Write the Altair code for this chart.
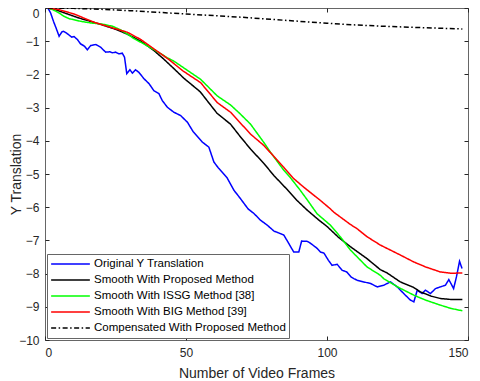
import altair as alt
import pandas as pd

W, H = 423, 332

labels = [
    "Original Y Translation",
    "Smooth With Proposed Method",
    "Smooth With ISSG Method [38]",
    "Smooth With BIG Method [39]",
    "Compensated With Proposed Method",
]
colors = ["#0000ff", "#000000", "#00ff00", "#ff0000", "#000000"]
dashes = [[1, 0], [1, 0], [1, 0], [1, 0], [5, 2.5, 1.5, 2.5]]

orig_x = [1, 2, 3, 4, 5, 6, 6.5, 7.5, 8, 9.5, 10.3, 11.5, 12.6, 14, 15, 16.2, 18, 19.7,
          21.5, 23, 23.9, 25, 26.2, 27.4, 28.2, 29, 30.1, 31, 32.1, 33.3, 35.1, 36.9,
          38.6, 40.4, 41.6, 43.4, 45.7, 48.1, 50.5, 52.5, 55.8, 58.1, 59.9, 61.5, 64.6,
          67, 69.3, 72, 74.1, 76.4, 78.8, 81.2, 83, 84.7, 86.5, 88.2, 90, 91, 93, 94.2,
          96.5, 97.7, 98.9, 100.5, 101.8, 103.6, 105.4, 107, 108.5, 109.5, 110.7, 113,
          115.5, 117.8, 120.1, 122.5, 124.9, 127.2, 129.6, 130.8, 132, 133.7, 134.9,
          136.7, 138.5, 140.2, 142, 143.2, 144.9, 145.9, 147, 147.9]
orig_y = [0, -0.15, -0.4, -0.62, -0.85, -0.72, -0.7, -0.75, -0.78, -0.88, -0.86, -0.95,
          -1.08, -1.15, -1.26, -1.13, -1.1, -1.18, -1.33, -1.32, -1.35, -1.33, -1.38,
          -1.36, -1.48, -1.98, -1.86, -1.96, -1.86, -1.94, -2.13, -2.28, -2.49, -2.58,
          -2.79, -2.99, -3.14, -3.24, -3.44, -3.72, -4.04, -4.19, -4.64, -4.82, -5.12,
          -5.49, -5.74, -6.05, -6.19, -6.39, -6.54, -6.72, -6.78, -6.84, -7.1, -7.35,
          -7.35, -7.02, -7.03, -7.09, -7.24, -7.35, -7.38, -7.6, -7.75, -7.72, -7.9,
          -7.95, -8.1, -8.15, -8.2, -8.25, -8.3, -8.4, -8.35, -8.25, -8.4, -8.6, -8.8,
          -8.85, -8.5, -8.6, -8.5, -8.6, -8.45, -8.4, -8.35, -8.18, -8.45, -8.1, -7.63,
          -7.85]

prop_x = [1, 4, 8, 12, 16, 20, 25, 29, 34, 38.6, 42, 46, 49.3, 55, 61, 65.8, 69.3, 72.9,
          77.6, 81.2, 85.9, 89.4, 93, 97, 100, 104, 108.3, 114.2, 118.9, 121.3, 126,
          130.8, 133.1, 137, 140.2, 144, 148]
prop_y = [0, -0.06, -0.18, -0.3, -0.4, -0.5, -0.64, -0.78, -1.0, -1.28, -1.53, -1.85,
          -2.12, -2.52, -3.17, -3.5, -3.88, -4.25, -4.68, -5.05, -5.47, -5.8, -6.09,
          -6.38, -6.58, -6.9, -7.19, -7.55, -7.88, -7.98, -8.25, -8.42, -8.55, -8.68,
          -8.75, -8.78, -8.78]

issg_x = [1, 3, 5, 6.7, 8.5, 12.6, 16.2, 20, 24, 26.8, 29.2, 31.5, 35, 38.6, 43.4, 45.7,
          50, 55.2, 61.1, 65.8, 69.1, 72.9, 77.6, 80, 84.7, 87.1, 90.6, 93, 96.5, 101.2,
          104.8, 108.3, 114.2, 118.9, 120.1, 125, 130.8, 135, 140.2, 144, 148]
issg_y = [0, -0.06, -0.15, -0.25, -0.32, -0.4, -0.45, -0.48, -0.55, -0.66, -0.78, -0.92,
          -1.08, -1.25, -1.5, -1.6, -1.85, -2.15, -2.65, -2.92, -3.18, -3.5, -4.05, -4.35,
          -4.89, -5.12, -5.5, -5.78, -6.2, -6.54, -6.9, -7.29, -7.8, -8.05, -8.15, -8.4,
          -8.65, -8.8, -8.95, -9.05, -9.12]

big_x = [1, 5, 10.3, 17.4, 24, 29.2, 34, 38.6, 43.9, 49, 55.2, 61.1, 65.8, 72.9, 77.6,
         84.7, 88.2, 91.8, 97.7, 101.2, 102.4, 108.3, 110.7, 114.2, 118.9, 126, 130.8,
         135, 140.2, 144, 148]
big_y = [0, -0.05, -0.18, -0.43, -0.6, -0.73, -0.95, -1.23, -1.55, -1.9, -2.25, -2.85,
         -3.14, -3.8, -4.14, -4.8, -5.14, -5.4, -5.8, -6.05, -6.15, -6.52, -6.65, -6.89,
         -7.14, -7.44, -7.65, -7.8, -7.95, -7.99, -7.98]

comp_x = [1, 10, 20, 30, 40, 50, 60, 70, 80, 90, 100, 110, 120, 130, 140, 148]
comp_y = [0, -0.01, -0.04, -0.08, -0.13, -0.18, -0.23, -0.28, -0.34, -0.4, -0.46, -0.51,
          -0.55, -0.58, -0.61, -0.63]

x_ticks = [0, 50, 100, 150]
y_ticks = list(range(-10, 1))

frames = []
for name, xs, ys in zip(labels,
                        [orig_x, prop_x, issg_x, big_x, comp_x],
                        [orig_y, prop_y, issg_y, big_y, comp_y]):
    frames.append(pd.DataFrame({"series": name, "frame": xs, "y": ys}))
df = pd.concat(frames, ignore_index=True)

FONT = "Liberation Sans"
AX = "#262626"
BOX = "#666666"

xscale = alt.Scale(domain=[0, 150], nice=False, zero=False)
yscale = alt.Scale(domain=[-10, 0], nice=False, zero=False)

legend = alt.Legend(
    title=None, orient="none", legendX=2, legendY=246, direction="vertical",
    fillColor="white", strokeColor=BOX, padding=3, cornerRadius=0,
    symbolType="stroke", symbolSize=1500, symbolStrokeWidth=1.5,
    labelFont=FONT, labelFontSize=11.5, labelColor="black", labelOffset=3,
    labelLimit=0, clipHeight=14, rowPadding=2,
)

lines = alt.Chart(df).mark_line(strokeWidth=1.5, clip=True).encode(
    x=alt.X("frame:Q", scale=xscale,
            axis=alt.Axis(orient="bottom", values=x_ticks, title="Number of Video Frames",
                          ticks=False, tickSize=0, domain=False, grid=False,
                          labelPadding=7, titlePadding=8, labelFontSize=12,
                          titleFontSize=14)),
    y=alt.Y("y:Q", scale=yscale,
            axis=alt.Axis(orient="left", values=y_ticks, title="Y Translation",
                          ticks=False, tickSize=0, domain=False, grid=False,
                          labelPadding=6, titlePadding=-5, labelFontSize=12,
                          titleFontSize=14,
                          labelBaseline={"condition": {"test": "datum.value == 0", "value": "top"},
                                         "value": "middle"})),
    color=alt.Color("series:N", scale=alt.Scale(domain=labels, range=colors), legend=legend),
    strokeDash=alt.StrokeDash("series:N", scale=alt.Scale(domain=labels, range=dashes),
                              legend=legend),
)

def tick_axis(orient, values, offset):
    return alt.Axis(orient=orient, values=values, offset=offset, labels=False, title=None,
                    domain=False, grid=False, ticks=True, tickSize=4, tickColor=AX,
                    tickWidth=1)

ticks_a = alt.Chart(df).mark_line(opacity=0).encode(
    x=alt.X("frame:Q", scale=xscale, axis=tick_axis("top", x_ticks, -H)),
    y=alt.Y("y:Q", scale=yscale, axis=tick_axis("right", y_ticks, -W)),
)
ticks_b = alt.Chart(df).mark_line(opacity=0).encode(
    x=alt.X("frame:Q", scale=xscale, axis=tick_axis("bottom", x_ticks, -H)),
    y=alt.Y("y:Q", scale=yscale, axis=tick_axis("left", y_ticks, -W)),
)

chart = alt.layer(lines, ticks_a, ticks_b).resolve_axis(
    x="independent", y="independent"
).properties(
    width=W, height=H,
    autosize=alt.AutoSizeParams(type="none"),
    padding={"left": 37, "top": 0, "right": 4, "bottom": 40},
).configure_view(
    stroke=BOX, strokeWidth=1
).configure_axis(
    labelFont=FONT, titleFont=FONT, labelColor=AX, titleColor=AX,
    titleFontWeight="normal"
)

chart.save("out.html", embed_options={"renderer": "svg", "actions": False})
